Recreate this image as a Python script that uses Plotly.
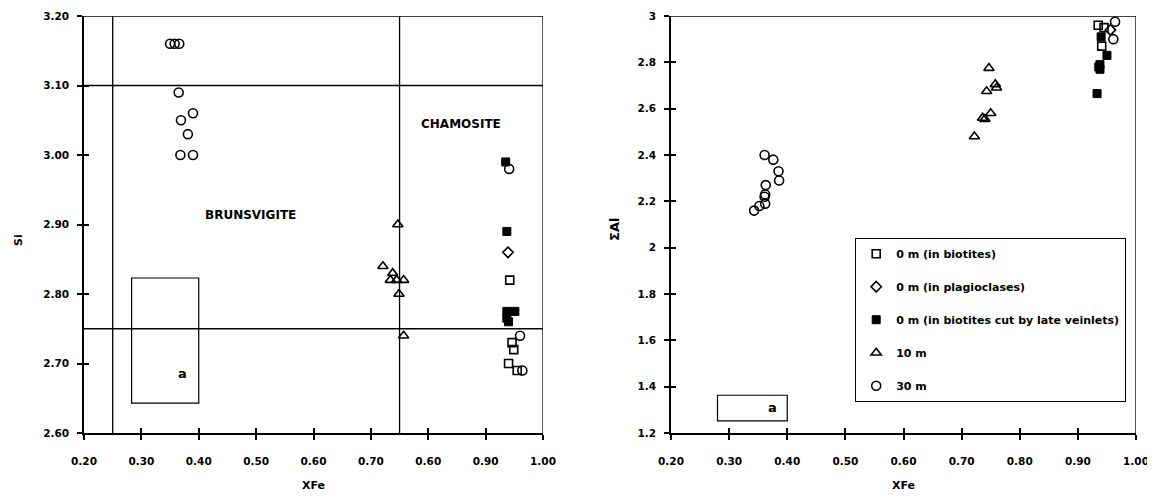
import plotly.graph_objects as go

# ---------------- data: left panel (XFe vs Si) ----------------
L_sq_open_x = [0.942, 0.946, 0.949, 0.940, 0.955]
L_sq_open_y = [2.82, 2.73, 2.72, 2.70, 2.69]
L_diam_x = [0.939]
L_diam_y = [2.86]
L_sq_fill_x = [0.935, 0.937, 0.937, 0.951, 0.937, 0.940]
L_sq_fill_y = [2.99, 2.89, 2.775, 2.775, 2.765, 2.76]
L_tri_x = [0.721, 0.738, 0.734, 0.745, 0.757, 0.749, 0.757, 0.747]
L_tri_y = [2.84, 2.83, 2.82, 2.82, 2.82, 2.80, 2.74, 2.90]
L_circ_x = [0.350, 0.358, 0.366, 0.365, 0.369, 0.390, 0.381, 0.368, 0.390, 0.941, 0.960, 0.964]
L_circ_y = [3.16, 3.16, 3.16, 3.09, 3.05, 3.06, 3.03, 3.00, 3.00, 2.98, 2.74, 2.69]

# ---------------- data: right panel (XFe vs sum Al) ----------------
R_sq_open_x = [0.935, 0.941, 0.945]
R_sq_open_y = [2.96, 2.87, 2.95]
R_diam_x = [0.956]
R_diam_y = [2.94]
R_sq_fill_x = [0.940, 0.950, 0.938, 0.938, 0.936, 0.933]
R_sq_fill_y = [2.91, 2.83, 2.79, 2.77, 2.78, 2.665]
R_tri_x = [0.747, 0.758, 0.743, 0.760, 0.750, 0.736, 0.740, 0.722]
R_tri_y = [2.775, 2.705, 2.675, 2.69, 2.58, 2.56, 2.555, 2.48]
R_circ_x = [0.361, 0.376, 0.385, 0.386, 0.363, 0.362, 0.361, 0.362, 0.352, 0.343, 0.964, 0.961]
R_circ_y = [2.40, 2.38, 2.33, 2.29, 2.27, 2.23, 2.22, 2.19, 2.18, 2.16, 2.975, 2.90]

series_names = ["0 m (in biotites)", "0 m (in plagioclases)",
                "0 m (in biotites cut by late veinlets)", "10 m", "30 m"]

# ticks
x_tickvals = [0.2, 0.3, 0.4, 0.5, 0.6, 0.7, 0.8, 0.9, 1.0]
L_x_ticktext = ["0.20", "0.30", "0.40", "0.50", "0.60", "0.70", "0.60", "0.90", "1.00"]
R_x_ticktext = ["0.20", "0.30", "0.40", "0.50", "0.60", "0.70", "0.80", "0.90", "1.00"]
L_y_tickvals = [2.6, 2.7, 2.8, 2.9, 3.0, 3.1, 3.2]
L_y_ticktext = ["2.60", "2.70", "2.80", "2.90", "3.00", "3.10", "3.20"]
R_y_tickvals = [1.2, 1.4, 1.6, 1.8, 2.0, 2.2, 2.4, 2.6, 2.8, 3.0]
R_y_ticktext = ["1.2", "1.4", "1.6", "1.8", "2", "2.2", "2.4", "2.6", "2.8", "3"]

# field boundaries (left) and inset boxes
L_si_bounds = [3.10, 2.75]
L_xfe_bounds = [0.25, 0.75]
L_box_x = [0.283, 0.400]
L_box_y = [2.643, 2.823]
R_box_x = [0.280, 0.400]
R_box_y = [1.252, 1.363]

FONT = "DejaVu Sans, Verdana, sans-serif"

# page offset (browser body margin)
OFF = 8
W, H = 1155 - OFF, 498 - OFF

styles = [
    dict(symbol="square-open", size=8, color="black", line=dict(width=1.6, color="black")),
    dict(symbol="diamond-open", size=8, color="black", line=dict(width=1.6, color="black")),
    dict(symbol="square", size=8, color="black", line=dict(width=1, color="black")),
    dict(symbol="triangle-up-open", size=9, color="black", line=dict(width=1.6, color="black")),
    dict(symbol="circle-open", size=9, color="black", line=dict(width=1.6, color="black")),
]

fig = go.Figure()

L_sets = [(L_sq_open_x, L_sq_open_y), (L_diam_x, L_diam_y), (L_sq_fill_x, L_sq_fill_y),
          (L_tri_x, L_tri_y), (L_circ_x, L_circ_y)]
R_sets = [(R_sq_open_x, R_sq_open_y), (R_diam_x, R_diam_y), (R_sq_fill_x, R_sq_fill_y),
          (R_tri_x, R_tri_y), (R_circ_x, R_circ_y)]

for i, (xs, ys) in enumerate(L_sets):
    fig.add_trace(go.Scatter(x=xs, y=ys, mode="markers", marker=styles[i],
                             name=series_names[i], showlegend=False,
                             xaxis="x", yaxis="y"))
for i, (xs, ys) in enumerate(R_sets):
    fig.add_trace(go.Scatter(x=xs, y=ys, mode="markers", marker=styles[i],
                             name=series_names[i], showlegend=True,
                             legendgroup="g%d" % i, xaxis="x2", yaxis="y2"))

# transparent traces so the tick-overlay axes get drawn
fig.add_trace(go.Scatter(x=[0.5], y=[2.9], mode="markers", marker=dict(opacity=0),
                         showlegend=False, hoverinfo="skip", xaxis="x3", yaxis="y3"))
fig.add_trace(go.Scatter(x=[0.5], y=[2.0], mode="markers", marker=dict(opacity=0),
                         showlegend=False, hoverinfo="skip", xaxis="x4", yaxis="y4"))

tickfont = dict(family=FONT, size=10.5, color="black", weight="bold")
L_dom = [(84 - OFF) / W, (543 - OFF) / W]
R_dom = [(671 - OFF) / W, (1136 - OFF) / W]

def xax(dom, ticktext, anchor, **kw):
    d = dict(domain=dom, range=[0.2, 1.0], tickvals=x_tickvals, ticktext=ticktext,
             ticks="outside", ticklen=5, tickwidth=1.5, tickcolor="black",
             showline=True, linecolor="black", linewidth=1.5, showgrid=False,
             zeroline=False, tickfont=tickfont, anchor=anchor, ticklabelstandoff=13,
             automargin=False)
    d.update(kw)
    return d

def yax(rng, tv, tt, anchor, **kw):
    d = dict(domain=[0, 1], range=rng, tickvals=tv, ticktext=tt,
             ticks="outside", ticklen=5, tickwidth=1.5, tickcolor="black",
             showline=True, linecolor="black", linewidth=1.5, showgrid=False,
             zeroline=False, tickfont=tickfont, anchor=anchor, ticklabelstandoff=6,
             automargin=False)
    d.update(kw)
    return d

overlay_kw = dict(ticks="inside", showticklabels=False, showline=False)

fig.update_layout(
    width=W, height=H,
    paper_bgcolor="white", plot_bgcolor="white",
    margin=dict(l=0, r=0, t=16 - OFF, b=498 - 433),
    xaxis=xax(L_dom, L_x_ticktext, "y"),
    yaxis=yax([2.6, 3.2], L_y_tickvals, L_y_ticktext, "x"),
    xaxis2=xax(R_dom, R_x_ticktext, "y2"),
    yaxis2=yax([1.2, 3.0], R_y_tickvals, R_y_ticktext, "x2"),
    xaxis3=xax(L_dom, L_x_ticktext, "y3", overlaying="x", **overlay_kw),
    yaxis3=yax([2.6, 3.2], L_y_tickvals, L_y_ticktext, "x3", overlaying="y", **overlay_kw),
    xaxis4=xax(R_dom, R_x_ticktext, "y4", overlaying="x2", **overlay_kw),
    yaxis4=yax([1.2, 3.0], R_y_tickvals, R_y_ticktext, "x4", overlaying="y2", **overlay_kw),
    showlegend=True,
    legend=dict(x=(855 - OFF) / W, y=(433 - 238) / 417, xanchor="left", yanchor="top",
                bgcolor="white", bordercolor="black", borderwidth=1.2,
                font=dict(family=FONT, size=11, color="black", weight="bold"),
                tracegroupgap=14, itemwidth=30),
)

line = dict(color="black", width=1.3)
shapes = []
# left panel frame & field lines
shapes.append(dict(type="line", xref="x", yref="y", x0=0.2, x1=1.0, y0=3.2, y1=3.2, line=line))
shapes.append(dict(type="line", xref="x", yref="y", x0=1.0, x1=1.0, y0=2.6, y1=3.2, line=line))
for s in L_si_bounds:
    shapes.append(dict(type="line", xref="x", yref="y", x0=0.2, x1=1.0, y0=s, y1=s, line=line))
for xv in L_xfe_bounds:
    shapes.append(dict(type="line", xref="x", yref="y", x0=xv, x1=xv, y0=2.6, y1=3.2, line=line))
shapes.append(dict(type="rect", xref="x", yref="y", x0=L_box_x[0], x1=L_box_x[1],
                   y0=L_box_y[0], y1=L_box_y[1], line=dict(color="black", width=1.2)))
# right panel frame
shapes.append(dict(type="line", xref="x2", yref="y2", x0=0.2, x1=1.0, y0=3.0, y1=3.0, line=line))
shapes.append(dict(type="line", xref="x2", yref="y2", x0=1.0, x1=1.0, y0=1.2, y1=3.0, line=line))
shapes.append(dict(type="rect", xref="x2", yref="y2", x0=R_box_x[0], x1=R_box_x[1],
                   y0=R_box_y[0], y1=R_box_y[1], line=dict(color="black", width=1.2)))
fig.update_layout(shapes=shapes)

bold = dict(family=FONT, color="black", weight="bold")
ann = [
    dict(x=0.49, y=2.914, xref="x", yref="y", text="BRUNSVIGITE", showarrow=False,
         font=dict(size=12, **bold)),
    dict(x=0.857, y=3.045, xref="x", yref="y", text="CHAMOSITE", showarrow=False,
         font=dict(size=12, **bold)),
    dict(x=0.371, y=2.685, xref="x", yref="y", text="a", showarrow=False,
         font=dict(size=13, **bold)),
    dict(x=0.375, y=1.312, xref="x2", yref="y2", text="a", showarrow=False,
         font=dict(size=13, **bold)),
    dict(x=(L_dom[0] + L_dom[1]) / 2, y=-52 / 417, xref="paper", yref="paper",
         xanchor="center", yanchor="middle",
         text="XFe", showarrow=False, font=dict(size=11, **bold)),
    dict(x=(R_dom[0] + R_dom[1]) / 2, y=-52 / 417, xref="paper", yref="paper",
         xanchor="center", yanchor="middle",
         text="XFe", showarrow=False, font=dict(size=11, **bold)),
    dict(x=(18 - OFF) / W, y=(433 - 240) / 417, xref="paper", yref="paper",
         xanchor="center", yanchor="middle",
         text="Si", textangle=-90, showarrow=False, font=dict(size=11, **bold)),
    dict(x=(615 - OFF) / W, y=(433 - 230) / 417, xref="paper", yref="paper",
         xanchor="center", yanchor="middle",
         text="ΣAl", textangle=-90, showarrow=False, font=dict(size=13, **bold)),
]
fig.update_layout(annotations=ann)

fig.write_html("out.html")
